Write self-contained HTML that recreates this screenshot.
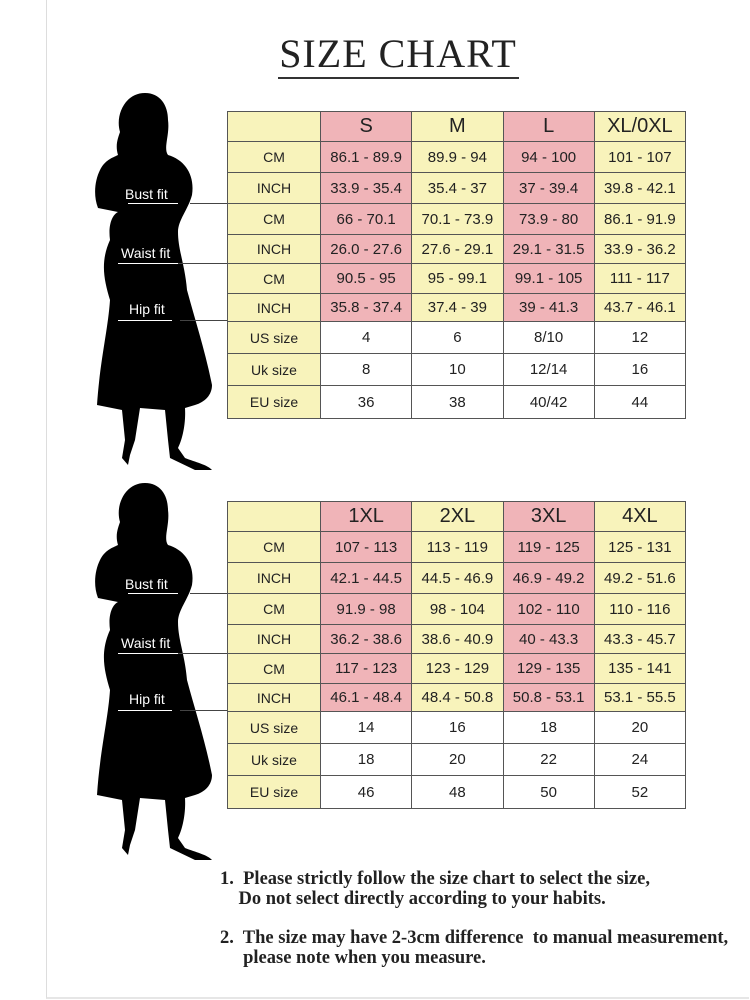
<!DOCTYPE html>
<html><head><style>
body{margin:0;width:750px;height:1000px;background:#fff;position:relative;overflow:hidden;font-family:"Liberation Sans",sans-serif;}
.frame{position:absolute;left:46px;top:0;width:702px;height:997px;border-left:1px solid #ddd;border-bottom:2px solid #e6e6e6;}
h1{position:absolute;left:0;width:796px;top:30px;margin:0;text-align:center;font:400 40px "Liberation Serif",serif;letter-spacing:1px;color:#222;}
.ul{position:absolute;left:278px;top:77px;width:241px;height:2px;background:#333;}
table{position:absolute;left:227px;border-collapse:collapse;table-layout:fixed;width:459px;}
td{border:1px solid #555;text-align:center;padding:0;font-size:15px;color:#222;overflow:hidden;white-space:nowrap;}
td.l{width:92px;font-size:14px;background:#f8f3bb;}
td.y{background:#f8f3bb;}
td.p{background:#f0b4b8;}
td.w{background:#fff;}
tr.h td{font-size:20px;height:29px}
.fit{position:absolute;font-size:14px;color:#fff;}
.line{position:absolute;height:1px;background:#444;}
.fl{position:absolute;height:1px;background:#fff;}
.note{position:absolute;left:220px;font:bold 18.5px "Liberation Serif",serif;color:#222;line-height:20px;white-space:nowrap;}
</style></head><body>
<div class="frame"></div>
<h1>SIZE CHART</h1><div class="ul"></div>

<svg width="750" height="1000" style="position:absolute;left:0;top:0">
<defs><g id="sil">
<path d="M145 93 C160 93 168 105 168 120 C170 135 163 148 168 155 C185 160 195 175 192 195 C188 210 178 220 178 232 C178 250 185 265 187 290 C195 320 205 350 212 385 C212 395 205 402 195 405 L185 408 C186 425 182 440 178 448 L185 458 C195 462 208 465 212 470 L195 470 L170 458 L168 440 L165 410 L140 408 L135 440 L130 455 L128 465 L122 458 L125 440 L122 410 L97 405 C100 360 108 330 110 300 C104 280 100 262 110 240 C108 225 112 215 118 212 L98 208 C93 195 95 180 100 170 C105 160 112 158 118 155 C115 145 118 138 120 132 C115 115 125 93 145 93 Z" fill="#000"/>
</g></defs>
<use href="#sil"/>
<use href="#sil" y="390"/>
</svg>

<div class="fit" style="left:125px;top:186px">Bust fit</div>
<div class="fl" style="left:128px;top:203px;width:50px"></div>
<div class="line" style="left:190px;top:203px;width:37px"></div>
<div class="fit" style="left:121px;top:245px">Waist fit</div>
<div class="fl" style="left:118px;top:263px;width:60px"></div>
<div class="line" style="left:178px;top:263px;width:49px"></div>
<div class="fit" style="left:129px;top:301px">Hip fit</div>
<div class="fl" style="left:118px;top:320px;width:54px"></div>
<div class="line" style="left:180px;top:320px;width:47px"></div>

<div class="fit" style="left:125px;top:576px">Bust fit</div>
<div class="fl" style="left:128px;top:593px;width:50px"></div>
<div class="line" style="left:190px;top:593px;width:37px"></div>
<div class="fit" style="left:121px;top:635px">Waist fit</div>
<div class="fl" style="left:118px;top:653px;width:60px"></div>
<div class="line" style="left:178px;top:653px;width:49px"></div>
<div class="fit" style="left:129px;top:691px">Hip fit</div>
<div class="fl" style="left:118px;top:710px;width:54px"></div>
<div class="line" style="left:180px;top:710px;width:47px"></div>

<table style="top:111px">
<tr class="h"><td class="l"></td><td class="p">S</td><td class="y">M</td><td class="p">L</td><td class="y">XL/0XL</td></tr>
<tr style="height:31px"><td class="l">CM</td><td class="p">86.1 - 89.9</td><td class="y">89.9 - 94</td><td class="p">94 - 100</td><td class="y">101 - 107</td></tr>
<tr style="height:31px"><td class="l">INCH</td><td class="p">33.9 - 35.4</td><td class="y">35.4 - 37</td><td class="p">37 - 39.4</td><td class="y">39.8 - 42.1</td></tr>
<tr style="height:31px"><td class="l">CM</td><td class="p">66 - 70.1</td><td class="y">70.1 - 73.9</td><td class="p">73.9 - 80</td><td class="y">86.1 - 91.9</td></tr>
<tr style="height:29px"><td class="l">INCH</td><td class="p">26.0 - 27.6</td><td class="y">27.6 - 29.1</td><td class="p">29.1 - 31.5</td><td class="y">33.9 - 36.2</td></tr>
<tr style="height:30px"><td class="l">CM</td><td class="p">90.5 - 95</td><td class="y">95 - 99.1</td><td class="p">99.1 - 105</td><td class="y">111 - 117</td></tr>
<tr style="height:28px"><td class="l">INCH</td><td class="p">35.8 - 37.4</td><td class="y">37.4 - 39</td><td class="p">39 - 41.3</td><td class="y">43.7 - 46.1</td></tr>
<tr style="height:32px"><td class="l">US size</td><td class="w">4</td><td class="w">6</td><td class="w">8/10</td><td class="w">12</td></tr>
<tr style="height:32px"><td class="l">Uk size</td><td class="w">8</td><td class="w">10</td><td class="w">12/14</td><td class="w">16</td></tr>
<tr style="height:33px"><td class="l">EU size</td><td class="w">36</td><td class="w">38</td><td class="w">40/42</td><td class="w">44</td></tr>
</table>

<table style="top:501px">
<tr class="h"><td class="l"></td><td class="p">1XL</td><td class="y">2XL</td><td class="p">3XL</td><td class="y">4XL</td></tr>
<tr style="height:31px"><td class="l">CM</td><td class="p">107 - 113</td><td class="y">113 - 119</td><td class="p">119 - 125</td><td class="y">125 - 131</td></tr>
<tr style="height:31px"><td class="l">INCH</td><td class="p">42.1 - 44.5</td><td class="y">44.5 - 46.9</td><td class="p">46.9 - 49.2</td><td class="y">49.2 - 51.6</td></tr>
<tr style="height:31px"><td class="l">CM</td><td class="p">91.9 - 98</td><td class="y">98 - 104</td><td class="p">102 - 110</td><td class="y">110 - 116</td></tr>
<tr style="height:29px"><td class="l">INCH</td><td class="p">36.2 - 38.6</td><td class="y">38.6 - 40.9</td><td class="p">40 - 43.3</td><td class="y">43.3 - 45.7</td></tr>
<tr style="height:30px"><td class="l">CM</td><td class="p">117 - 123</td><td class="y">123 - 129</td><td class="p">129 - 135</td><td class="y">135 - 141</td></tr>
<tr style="height:28px"><td class="l">INCH</td><td class="p">46.1 - 48.4</td><td class="y">48.4 - 50.8</td><td class="p">50.8 - 53.1</td><td class="y">53.1 - 55.5</td></tr>
<tr style="height:32px"><td class="l">US size</td><td class="w">14</td><td class="w">16</td><td class="w">18</td><td class="w">20</td></tr>
<tr style="height:32px"><td class="l">Uk size</td><td class="w">18</td><td class="w">20</td><td class="w">22</td><td class="w">24</td></tr>
<tr style="height:33px"><td class="l">EU size</td><td class="w">46</td><td class="w">48</td><td class="w">50</td><td class="w">52</td></tr>
</table>

<div class="note" style="top:869px">1.&nbsp; Please strictly follow the size chart to select the size,<br>&nbsp;&nbsp;&nbsp;&nbsp;Do not select directly according to your habits.</div>
<div class="note" style="top:928px">2.&nbsp; The size may have 2-3cm difference&nbsp; to manual measurement,<br>&nbsp;&nbsp;&nbsp;&nbsp;&nbsp;please note when you measure.</div>
</body></html>
